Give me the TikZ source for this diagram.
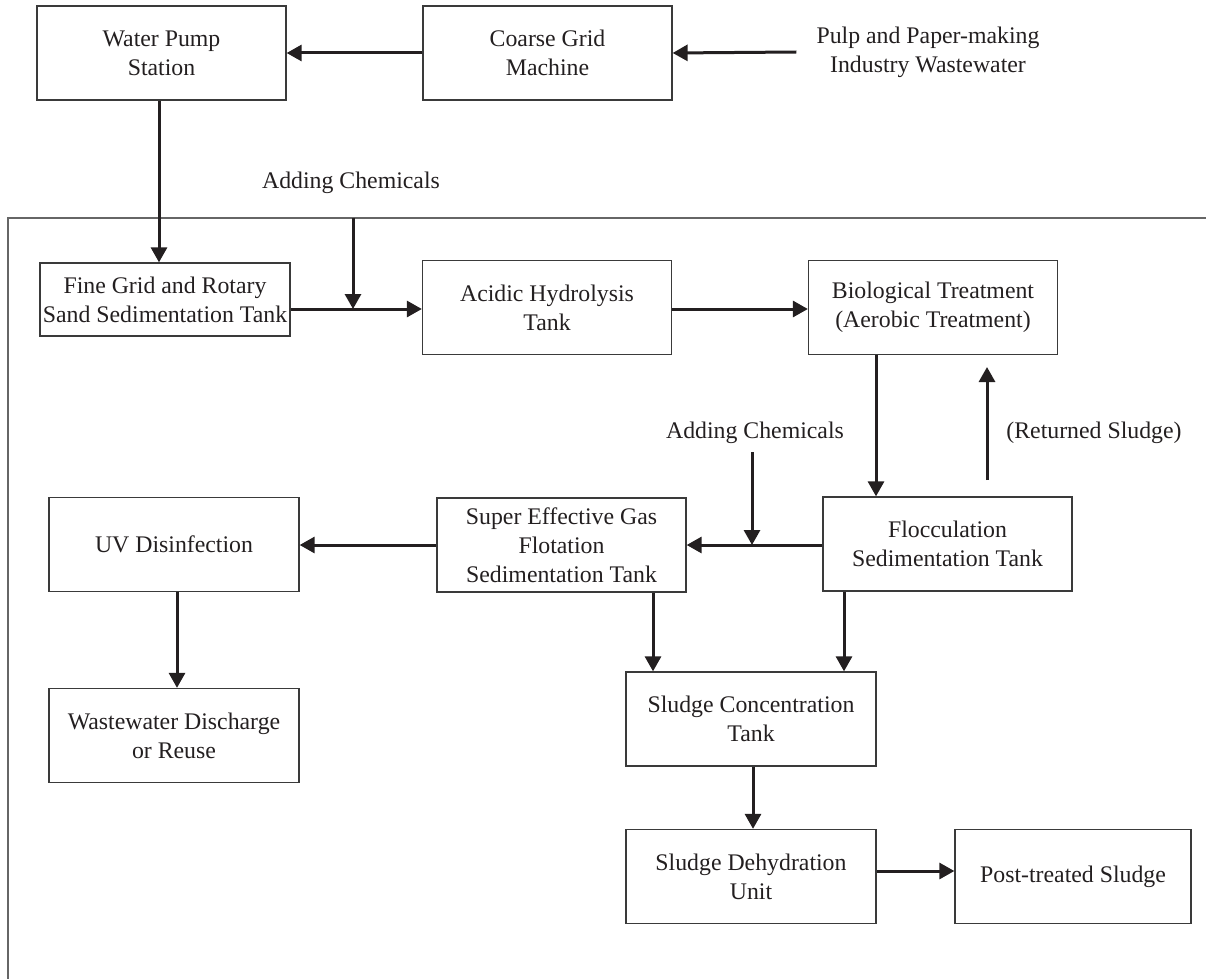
\documentclass[tikz,border=0pt]{standalone}
\usepackage{fontspec}
\setmainfont{Liberation Serif}
\usetikzlibrary{arrows.meta}
\definecolor{ink}{HTML}{231F20}
\definecolor{rule}{HTML}{3A3A3A}
\definecolor{framegray}{HTML}{666666}
\begin{document}
\begin{tikzpicture}[x=1pt,y=-1pt,
  every node/.style={font=\fontsize{23.8}{29}\selectfont, text=ink, align=center, inner sep=0pt},
  box/.style={draw=rule, line width=1.3pt, minimum width=249, minimum height=94},
  flow/.style={draw=ink, line width=3pt, -{Triangle[length=15pt,width=16pt]}},
  label/.style={}]
\useasboundingbox (0,0) rectangle (1206,979);

% outer frame (top and left edges)
\coordinate (ftop) at (0,218);
\draw[framegray, line width=1.5pt] (1206,218) -- (8,218) -- (8,979);

% process units
\node[box] (pump)   at (161.5,53)   {Water Pump\\Station};
\node[box] (coarse) at (547.5,53)   {Coarse Grid\\Machine};
\node[label] (pulp) at (928,52)     {Pulp and Paper-making\\Industry Wastewater};
\node[box, minimum width=250, minimum height=73] (fine) at (165,299.5) {Fine Grid and Rotary\\Sand Sedimentation Tank};
\node[box] (acidic) at (547,307.5)  {Acidic Hydrolysis\\Tank};
\node[box] (bio)    at (933,307.5)  {Biological Treatment\\(Aerobic Treatment)};
\node[box] (floc)   at (947.5,544)  {Flocculation\\Sedimentation Tank};
\node[box] (super)  at (561.5,545)  {Super Effective Gas\\Flotation\\Sedimentation Tank};
\node[box, minimum width=250] (uv) at (174,544.5) {UV Disinfection};
\node[box, minimum width=250] (waste) at (174,735.5) {Wastewater Discharge\\or Reuse};
\node[box, minimum width=250] (conc)  at (751,719)   {Sludge Concentration\\Tank};
\node[box, minimum width=250] (dehyd) at (751,876.5) {Sludge Dehydration\\Unit};
\node[box, minimum width=236] (post)  at (1073,876.5) {Post-treated Sludge};

% labels
\node[label] (chem1) at (351,183) {Adding Chemicals};
\node[label] (chem2) at (755,433) {Adding Chemicals};
\node[label] (ret)   at (1094,433) {(Returned Sludge)};

% junctions and free ends
\coordinate (j1) at (353,309);
\coordinate (j2) at (752,545);
\coordinate (c2) at (752,452);
\coordinate (r0) at (987,480);
\coordinate (r1) at (987,367);

% connectors
\draw[flow] ([xshift=-20pt]pulp.west) -- (coarse.east);
\draw[flow] (coarse.west) -- (pump.east);
\draw[flow] ([xshift=-2.5pt]pump.south) -- ([xshift=-2.5pt]pump.south |- fine.north);
\draw[flow] (fine.east |- j1) -- (acidic.west |- j1);
\draw[flow] (j1 |- ftop) -- (j1);
\draw[flow] (acidic.east |- j1) -- (bio.west |- j1);
\draw[flow] ([xshift=-57pt]bio.south) -- ([xshift=-57pt]bio.south |- floc.north);
\draw[flow] (r0) -- (r1);
\draw[flow] (floc.west |- j2) -- (super.east |- j2);
\draw[flow] (c2) -- (j2);
\draw[flow] (super.west |- j2) -- (uv.east |- j2);
\draw[flow] ([xshift=3pt]uv.south) -- ([xshift=3pt]uv.south |- waste.north);
\draw[flow] ([xshift=91.5pt]super.south) -- ([xshift=91.5pt]super.south |- conc.north);
\draw[flow] ([xshift=-103.5pt]floc.south) -- ([xshift=-103.5pt]floc.south |- conc.north);
\draw[flow] ([xshift=2pt]conc.south) -- ([xshift=2pt]conc.south |- dehyd.north);
\draw[flow] (dehyd.east |- 0,871) -- (post.west |- 0,871);
\end{tikzpicture}
\end{document}
